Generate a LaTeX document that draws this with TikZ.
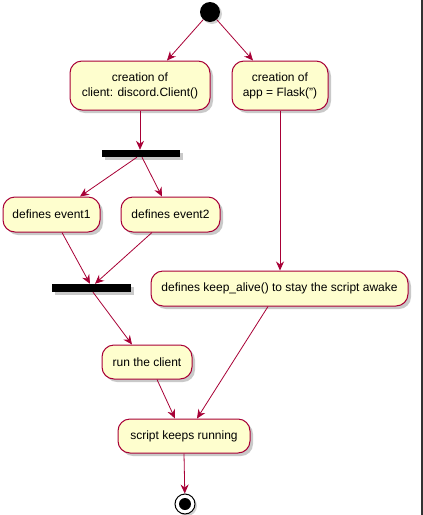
\documentclass[tikz,border=0pt]{standalone}
\usepackage{fontspec}
\setmainfont{Liberation Sans}
\usetikzlibrary{arrows.meta,shadows}
\definecolor{umlfill}{HTML}{FEFECE}
\definecolor{umlline}{HTML}{A80036}

\begin{document}
\begin{tikzpicture}[x=1pt,y=-1pt]
\tikzset{
  actnode/.style={rectangle,rounded corners=12pt,draw=umlline,fill=umlfill,line width=1pt,
    minimum height=35pt,inner sep=2pt,align=center,font=\fontsize{12}{15}\selectfont,
    drop shadow={shadow xshift=3pt,shadow yshift=-3pt,fill=black!35,opacity=0.6}},
  forkbar/.style={rectangle,fill=black,minimum width=79pt,minimum height=7pt,inner sep=0pt,
    drop shadow={shadow xshift=3pt,shadow yshift=-3pt,fill=black!35,opacity=0.6}},
  directed/.style={-{Stealth[length=9pt,width=8pt,inset=3pt]},draw=umlline,line width=0.8pt}
}
\useasboundingbox[fill=white] (0,0) rectangle (423,515);
\fill[black!80] (421,0) rectangle (423,515);
\node[circle,fill=black,minimum size=20pt,inner sep=0pt,
  drop shadow={shadow xshift=2pt,shadow yshift=-2pt,fill=black!35,opacity=0.5}] (n_start) at (210,12) {};
\node[actnode,minimum width=140pt,minimum height=49pt] (n_client) at (140,85.5) {creation of\\client: discord.Client()};
\node[actnode,minimum width=96pt,minimum height=49pt] (n_flask) at (280,85.5) {creation of\\app = Flask('')};
\node[forkbar,minimum width=78pt] (n_fork) at (141,153.5) {};
\node[actnode,minimum width=97pt] (n_event1) at (51.5,214.5) {defines event1};
\node[actnode,minimum width=99pt] (n_event2) at (170.5,214.5) {defines event2};
\node[forkbar,minimum width=79pt,minimum height=8pt] (n_join) at (91.5,288) {};
\node[actnode,minimum width=257pt] (n_alive) at (279.5,288.5) {defines keep\_alive() to stay the script awake};
\node[actnode,minimum width=90pt,minimum height=34pt] (n_run) at (147,362) {run the client};
\node[actnode,minimum width=132pt,minimum height=34pt] (n_keeps) at (184,436) {script keeps running};
\node[circle,draw=black,line width=1pt,fill=white,minimum size=20pt,inner sep=0pt,
  drop shadow={shadow xshift=2pt,shadow yshift=-2pt,fill=black!35,opacity=0.5}] (n_end) at (185,504) {};
\node[circle,fill=black,minimum size=12pt,inner sep=0pt] (n_endin) at (n_end) {};
\draw[directed] (n_start) -- ([xshift=27pt]n_client.north);
\draw[directed] (n_start) -- ([xshift=-27pt]n_flask.north);
\draw[directed] (n_client.south) -- ([xshift=-1pt]n_fork.north);
\draw[directed] ([xshift=-4pt]n_fork.south) -- ([xshift=28.5pt]n_event1.north);
\draw[directed] ([xshift=1pt]n_fork.south) -- ([xshift=-8.5pt]n_event2.north);
\draw[directed] ([xshift=10.5pt]n_event1.south) -- ([xshift=-1.5pt]n_join.north);
\draw[directed] ([xshift=-18.5pt]n_event2.south) -- ([xshift=3.5pt]n_join.north);
\draw[directed] (n_flask.south) -- (n_flask.south |- n_alive.north);
\draw[directed] ([xshift=1.5pt]n_join.south) -- ([xshift=-15pt]n_run.north);
\draw[directed] ([xshift=10pt]n_run.south) -- ([xshift=-9pt]n_keeps.north);
\draw[directed] ([xshift=-11.5pt]n_alive.south) -- ([xshift=13pt]n_keeps.north);
\draw[directed] (n_keeps.south) -- (n_end);
\end{tikzpicture}
\end{document}
